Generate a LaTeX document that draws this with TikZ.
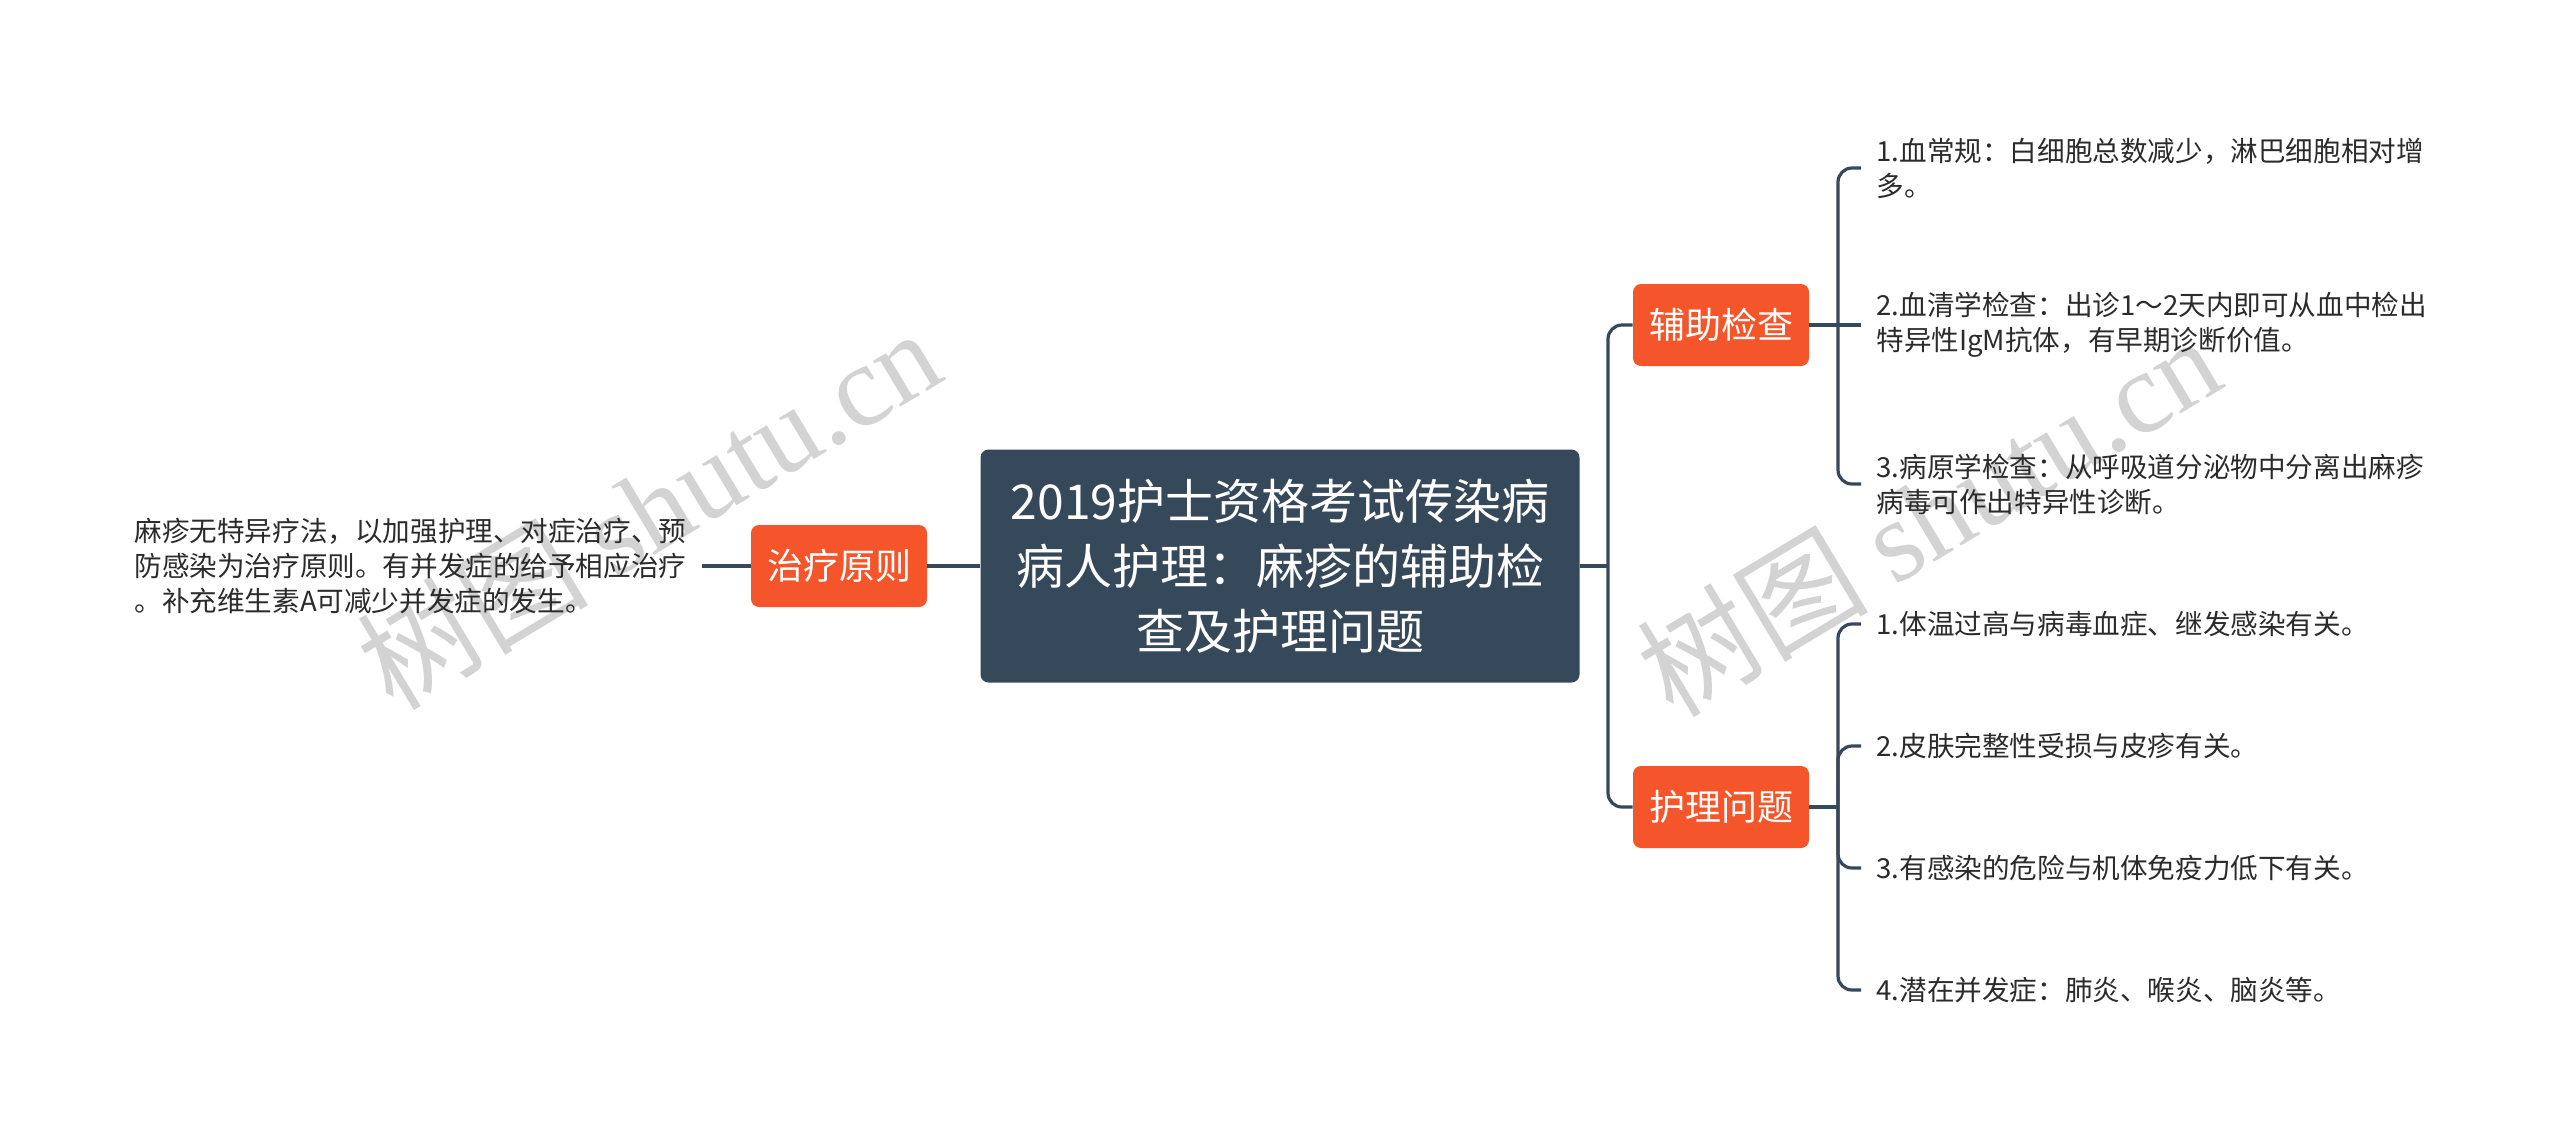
\documentclass[tikz,border=0pt]{standalone}
\usepackage{fontspec}
\setmainfont{Noto Sans CJK SC}
\newfontfamily\wmfont{Liberation Serif}
\newfontfamily\wmcjk{Noto Sans CJK SC}
\usetikzlibrary{calc}
\definecolor{dark}{HTML}{36495A}
\definecolor{orng}{HTML}{F4552A}
\definecolor{txt}{HTML}{2B2B2B}
\definecolor{wm}{HTML}{D3D3D3}
\begin{document}
\begin{tikzpicture}[x=0.5pt,y=-0.5pt,
  conn/.style={draw=dark,line width=1.6pt,rounded corners=7pt},
  central/.style={fill=dark,text=white,rounded corners=4pt,minimum width=299.5pt,minimum height=116.5pt,align=center,font=\fontsize{24}{32.5}\selectfont,inner sep=0pt},
  branch/.style={fill=orng,text=white,rounded corners=4pt,minimum width=88pt,minimum height=41pt,font=\fontsize{18}{22}\selectfont,inner sep=0pt},
  leaf/.style={text=txt,align=left,font=\fontsize{13.8}{17.5}\selectfont,inner xsep=7.5pt,inner ysep=2pt},
  wmark/.style={text=wm,rotate=31,font=\fontsize{58}{62}\selectfont,inner sep=0pt}]

\useasboundingbox[fill=white] (0,0) rectangle (2560,1142);

% watermarks
\node[wmark] (w1) at (648,508) {\wmcjk 树图 \wmfont shutu.cn};
\node[wmark] (w2) at (1928,515) {\wmcjk 树图 \wmfont shutu.cn};

% main nodes
\node[central] (c) at (1280,566) {2019护士资格考试传染病\\病人护理：麻疹的辅助检\\查及护理问题};
\node[branch] (zl) at (839,566) {治疗原则};
\node[branch] (fz) at (1721,325) {辅助检查};
\node[branch] (hl) at (1721,807) {护理问题};

% leaves
\node[leaf,anchor=west] (lt) at (119,566) {麻疹无特异疗法，以加强护理、对症治疗、预\\防感染为治疗原则。有并发症的给予相应治疗\\。补充维生素A可减少并发症的发生。};
\node[leaf,anchor=west] (r1) at (1861,168) {1.血常规：白细胞总数减少，淋巴细胞相对增\\多。};
\node[leaf,anchor=west] (r2) at (1861,325) {2.血清学检查：出诊1～2天内即可从血中检出\\特异性IgM抗体，有早期诊断价值。};
\node[leaf,anchor=west] (r3) at (1861,484) {3.病原学检查：从呼吸道分泌物中分离出麻疹\\病毒可作出特异性诊断。};
\node[leaf,anchor=west] (p1) at (1861,624) {1.体温过高与病毒血症、继发感染有关。};
\node[leaf,anchor=west] (p2) at (1861,746) {2.皮肤完整性受损与皮疹有关。};
\node[leaf,anchor=west] (p3) at (1861,868) {3.有感染的危险与机体免疫力低下有关。};
\node[leaf,anchor=west] (p4) at (1861,990) {4.潜在并发症：肺炎、喉炎、脑炎等。};

% junctions
\coordinate (t1) at (1608,566);
\coordinate (b1) at (1838,325);
\coordinate (b2) at (1838,807);

% connectors
\draw[conn] (c.east) -- (t1);
\draw[conn] (t1) |- (fz.west);
\draw[conn] (t1) |- (hl.west);
\draw[conn] (c.west) -- (zl.east);
\draw[conn] (zl.west) -- (lt.east);
\draw[conn] (fz.east) -- (r2.west);
\draw[conn] (b1) |- (r1.west);
\draw[conn] (b1) |- (r3.west);
\draw[conn] (hl.east) -- (b2);
\draw[conn] (b2) |- (p1.west);
\draw[conn] (b2) |- (p2.west);
\draw[conn] (b2) |- (p3.west);
\draw[conn] (b2) |- (p4.west);
\end{tikzpicture}
\end{document}
